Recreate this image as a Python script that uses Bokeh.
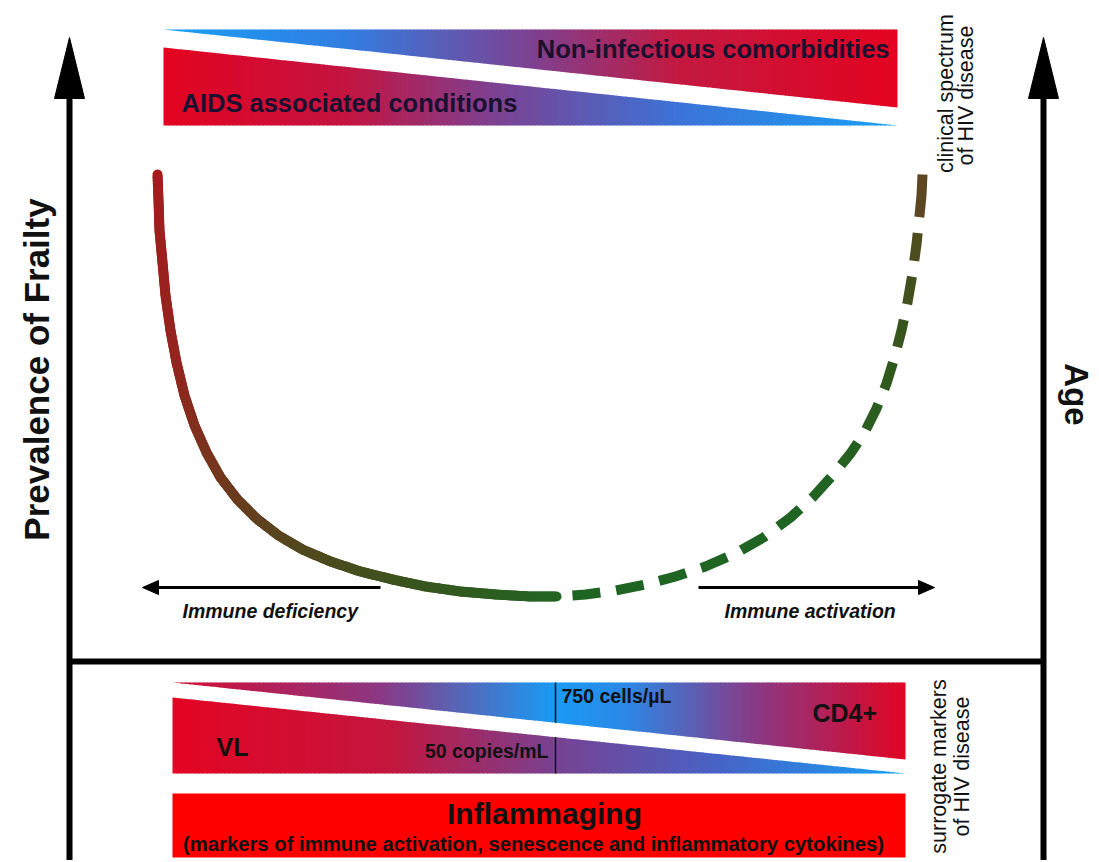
import numpy as np
from bokeh.plotting import figure
from bokeh.models import Range1d, Label
from bokeh.embed import file_html
from bokeh.resources import INLINE

FONT = "Liberation Sans"

# ------------------------------------------------------------------ data
# frame (diagram coordinates)
axis_x = [69, 1043]            # left axis (Prevalence of Frailty), right axis (Age)
axis_y = [95, 880]             # from arrow base down to bottom
divider_y = 661
arrow_tip_y = 37
arrow_base_y = 98
arrow_half = 15

# top band: clinical spectrum of HIV disease
top_band_x = [163, 897]
top_upper_edges = [[29, 29], [29, 107]]     # top edge y at (x0,x1), bottom edge y at (x0,x1)
top_lower_edges = [[47, 125], [125, 125]]
top_upper_stops = [0.0, 0.25, 0.5, 0.7, 1.0]
top_upper_colors = [(25, 160, 245), (50, 125, 225), (125, 65, 145), (195, 25, 65), (228, 3, 32)]
top_lower_stops = [0.0, 0.25, 0.45, 0.7, 1.0]
top_lower_colors = [(228, 3, 32), (195, 20, 65), (125, 65, 145), (60, 115, 215), (25, 160, 245)]
top_labels = ["Non-infectious comorbidities", "AIDS associated conditions"]
top_label_x = [889, 181]
top_label_y = [48, 102]
top_label_align = ["right", "left"]

# bottom band: surrogate markers of HIV disease
bot_band_x = [172, 905]
bot_upper_edges = [[682, 682], [682, 759]]
bot_lower_edges = [[697, 773], [773, 773]]
bot_upper_stops = [0.0, 0.28, 0.52, 0.62, 0.8, 1.0]
bot_upper_colors = [(212, 12, 50), (140, 55, 130), (25, 155, 245), (45, 135, 230), (140, 55, 130), (225, 5, 35)]
bot_lower_stops = [0.0, 0.3, 0.52, 0.75, 1.0]
bot_lower_colors = [(228, 5, 35), (195, 22, 62), (120, 65, 145), (70, 100, 200), (22, 160, 245)]
threshold_x = 555
threshold_labels = ["750 cells/µL", "50 copies/mL"]
threshold_label_x = [561, 548]
threshold_label_y = [695, 750]
threshold_label_align = ["left", "right"]
marker_labels = ["VL", "CD4+"]
marker_label_x = [216, 812]
marker_label_y = [746, 712]

# inflammaging bar
inflam_x = [172, 905]
inflam_y = [793, 857]
inflam_title = "Inflammaging"
inflam_sub = "(markers of immune activation, senescence and inflammatory cytokines)"

# frailty curve (solid: immune deficiency side, dashed: immune activation side)
left_curve_x = [157, 158, 159, 162, 165, 170, 176, 184, 194, 206, 220, 237, 256, 278,
                302, 330, 360, 392, 425, 460, 495, 530, 556]
left_curve_y = [174, 200, 230, 262, 295, 330, 362, 395, 425, 452, 477, 499, 518, 535,
                549, 561, 571, 579, 586, 591, 594, 596, 596]
right_curve_x = [556, 585, 615, 645, 675, 705, 735, 763, 790, 813, 833, 850, 864, 876,
                 886, 894, 901, 907, 912, 916, 919, 921, 922]
right_curve_y = [596, 594, 590, 584, 576, 566, 553, 537, 517, 496, 474, 453, 432, 408,
                 383, 357, 330, 302, 273, 244, 215, 195, 174]
left_curve_stops = [0.0, 0.3, 0.46, 0.6, 0.8, 1.0]
left_curve_colors = [(165, 28, 30), (145, 38, 30), (115, 55, 30), (85, 70, 30), (55, 85, 30), (35, 100, 35)]
right_curve_stops = [0.0, 0.45, 0.7, 0.85, 1.0]
right_curve_colors = [(30, 100, 35), (32, 100, 35), (50, 88, 30), (70, 78, 30), (100, 68, 35)]
dash_len, gap_len = 28, 16

# direction arrows
dir_arrow_y = 587
dir_arrow_x = [[380, 142], [698, 934]]
dir_labels = ["Immune deficiency", "Immune activation"]
dir_label_x = [182, 724]
dir_label_y = 610


# ------------------------------------------------------------------ helpers
def color_at(stops, cols, t):
    c = [np.interp(t, stops, [col[k] for col in cols]) for k in range(3)]
    return "#%02x%02x%02x" % tuple(int(round(v)) for v in c)


W, H = 1097, 860
p = figure(width=W, height=H, x_range=Range1d(0, W), y_range=Range1d(H, 0),
           x_axis_location=None, y_axis_location=None, toolbar_location=None,
           output_backend="svg", min_border=0)
p.grid.visible = False
p.outline_line_color = None
p.background_fill_color = "white"
p.border_fill_color = "white"


def band(xr, edges, stops, cols, n=170):
    x0, x1 = xr
    (t0, t1), (b0, b1) = edges
    ex = np.linspace(x0, x1, n + 1)
    xs, ys, fc = [], [], []
    for i in range(n):
        a = ex[i]
        b = min(ex[i + 1] + 0.9, x1)
        fa, fb = (a - x0) / (x1 - x0), (b - x0) / (x1 - x0)
        xs.append([a, b, b, a])
        ys.append([t0 + (t1 - t0) * fa, t0 + (t1 - t0) * fb,
                   b0 + (b1 - b0) * fb, b0 + (b1 - b0) * fa])
        fc.append(color_at(stops, cols, ((ex[i] + ex[i + 1]) / 2 - x0) / (x1 - x0)))
    p.patches(xs, ys, fill_color=fc, line_color=None)


def edge_y(xr, edge, x):
    return edge[0] + (edge[1] - edge[0]) * (x - xr[0]) / (xr[1] - xr[0])


# bands
band(top_band_x, top_upper_edges, top_upper_stops, top_upper_colors)
band(top_band_x, top_lower_edges, top_lower_stops, top_lower_colors)
band(bot_band_x, bot_upper_edges, bot_upper_stops, bot_upper_colors)
band(bot_band_x, bot_lower_edges, bot_lower_stops, bot_lower_colors)

# threshold marker lines
p.segment(x0=[threshold_x, threshold_x],
          y0=[bot_upper_edges[0][0], edge_y(bot_band_x, bot_lower_edges[0], threshold_x)],
          x1=[threshold_x, threshold_x],
          y1=[edge_y(bot_band_x, bot_upper_edges[1], threshold_x), bot_lower_edges[1][1]],
          line_color="#111111", line_width=1.5)

# inflammaging bar
p.quad(left=inflam_x[0], right=inflam_x[1], top=inflam_y[0], bottom=inflam_y[1],
       fill_color="#fe0000", line_color=None)

# frame axes
p.segment(x0=[axis_x[0], axis_x[1], axis_x[0]], y0=[axis_y[0], axis_y[0], divider_y],
          x1=[axis_x[0], axis_x[1], axis_x[1]], y1=[axis_y[1], axis_y[1], divider_y],
          line_color="black", line_width=6)
p.patches([[ax, ax - arrow_half, ax + arrow_half] for ax in axis_x],
          [[arrow_tip_y, arrow_base_y, arrow_base_y] for _ in axis_x],
          fill_color="black", line_color="black", line_width=1)


# frailty curve
def poly(xv, yv):
    pts = np.column_stack([xv, yv]).astype(float)
    cum = np.concatenate([[0.0], np.cumsum(np.hypot(*np.diff(pts, axis=0).T))])
    return pts, cum


def piece(pts, cum, s0, s1):
    xs = [np.interp(s0, cum, pts[:, 0])]
    ys = [np.interp(s0, cum, pts[:, 1])]
    for k in range(len(cum)):
        if s0 < cum[k] < s1:
            xs.append(pts[k, 0])
            ys.append(pts[k, 1])
    xs.append(np.interp(s1, cum, pts[:, 0]))
    ys.append(np.interp(s1, cum, pts[:, 1]))
    return xs, ys


pts, cum = poly(left_curve_x, left_curve_y)
L = cum[-1]
grid = np.linspace(0, L, int(L / 3) + 1)
lx, ly, lc = [], [], []
for s0, s1 in zip(grid[:-1], grid[1:]):
    xs, ys = piece(pts, cum, s0, s1)
    lx.append(xs)
    ly.append(ys)
    lc.append(color_at(left_curve_stops, left_curve_colors, (s0 + s1) / 2 / L))
p.multi_line(lx, ly, line_color=lc, line_width=10, line_cap="round", line_join="round")

pts, cum = poly(right_curve_x, right_curve_y)
L = cum[-1]
rx, ry, rc = [], [], []
s = gap_len
while s < L:
    e = min(s + dash_len, L)
    if L - e < gap_len:
        e = L
    xs, ys = piece(pts, cum, s, e)
    rx.append(xs)
    ry.append(ys)
    rc.append(color_at(right_curve_stops, right_curve_colors, (s + e) / 2 / L))
    s = e + gap_len
p.multi_line(rx, ry, line_color=rc, line_width=10, line_cap="butt", line_join="round")

# direction arrows
for (xa, xb) in dir_arrow_x:
    d = np.sign(xb - xa)
    p.segment(x0=[xa], y0=[dir_arrow_y], x1=[xb - d * 10], y1=[dir_arrow_y],
              line_color="black", line_width=3)
    p.patch([xb, xb - d * 16, xb - d * 16], [dir_arrow_y, dir_arrow_y - 7, dir_arrow_y + 7],
            fill_color="black", line_color="black")


# ------------------------------------------------------------------ texts
def lab(x, y, text, size, style="bold", align="left", angle=0.0, color="#111111"):
    p.add_layout(Label(x=x, y=y, text=text, text_font=FONT, text_font_size=size,
                       text_font_style=style, text_align=align, text_baseline="middle",
                       angle=angle, text_color=color))


for t, x, y, a in zip(top_labels, top_label_x, top_label_y, top_label_align):
    lab(x, y, t, "25.5px", align=a, color="#1a1030")
for t, x, y, a in zip(threshold_labels, threshold_label_x, threshold_label_y, threshold_label_align):
    lab(x, y, t, "19.5px", align=a)
for t, x, y in zip(marker_labels, marker_label_x, marker_label_y):
    lab(x, y, t, "25px")
for t, x in zip(dir_labels, dir_label_x):
    lab(x, dir_label_y, t, "19.5px", style="bold italic")

lab(544, 813, inflam_title, "30px", align="center")
lab(533, 843, inflam_sub, "20.3px", align="center")

lab(36, 369, "Prevalence of Frailty", "35px", align="center", angle=np.pi / 2)
lab(1076, 394, "Age", "33px", align="center", angle=-np.pi / 2)

lab(945, 93, "clinical spectrum", "21.5px", style="normal", align="center", angle=np.pi / 2)
lab(965, 95, "of HIV disease", "21.5px", style="normal", align="center", angle=np.pi / 2)
lab(938, 766, "surrogate markers", "21.5px", style="normal", align="center", angle=np.pi / 2)
lab(961, 766, "of HIV disease", "21.5px", style="normal", align="center", angle=np.pi / 2)

open("out.html", "w").write(file_html(p, INLINE))
